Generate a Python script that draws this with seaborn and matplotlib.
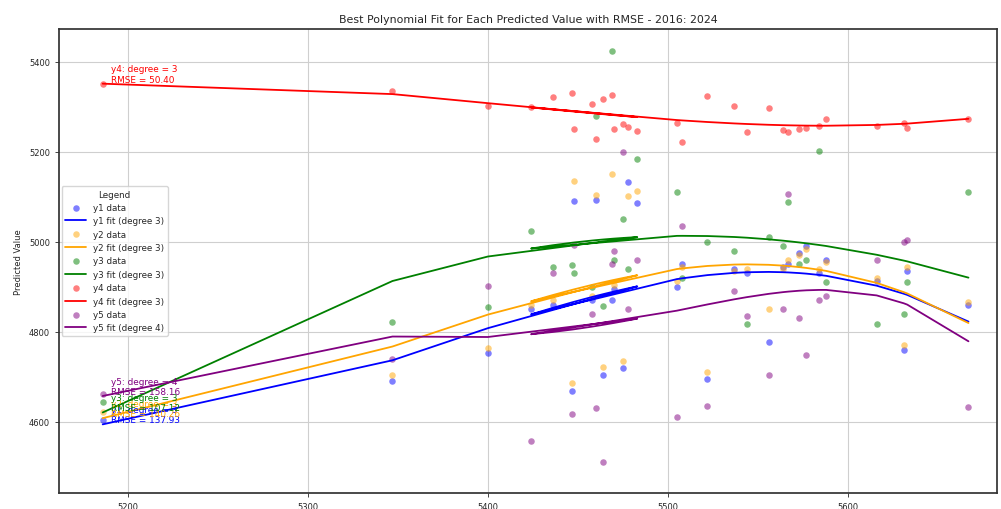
import numpy as np
import pandas as pd
import matplotlib
matplotlib.use("Agg")
import matplotlib.pyplot as plt
import seaborn as sns

# Actual values (in record order) and the five predicted series
actual = [5186, 5347, 5400, 5483, 5478, 5475, 5470, 5469, 5464, 5460,
          5458, 5448, 5447, 5436, 5424, 5505, 5508, 5522, 5537, 5544,
          5556, 5564, 5567, 5573, 5577, 5584, 5588, 5616, 5631, 5633, 5667]

y1 = [4604, 4690, 4753, 5087, 5133, 4720, 4896, 4870, 4704, 5093,
      4870, 5091, 4669, 4860, 4850, 4900, 4950, 4696, 4940, 4930,
      4778, 4945, 4950, 4975, 4990, 4930, 4960, 4913, 4760, 4936, 4860]
y2 = [4622, 4705, 4764, 5113, 5102, 4735, 4905, 5151, 4722, 5105,
      4880, 5136, 4687, 4870, 4860, 4912, 4945, 4710, 4935, 4940,
      4851, 4940, 4960, 4970, 4985, 4940, 4955, 4920, 4770, 4945, 4866]
y3 = [4645, 4822, 4856, 5184, 4940, 5051, 4960, 5424, 4858, 5280,
      4900, 4930, 4949, 4944, 5024, 5111, 4920, 5000, 4980, 4818,
      5010, 4990, 5089, 4950, 4960, 5202, 4910, 4818, 4840, 4910, 5111]
y4 = [5350, 5336, 5302, 5247, 5255, 5262, 5250, 5327, 5318, 5229,
      5307, 5250, 5331, 5322, 5300, 5265, 5222, 5324, 5302, 5245,
      5298, 5248, 5245, 5250, 5252, 5258, 5272, 5257, 5265, 5254, 5273]
y5 = [4662, 4740, 4902, 4960, 4850, 5200, 4980, 4950, 4511, 4631,
      4840, 4994, 4618, 4930, 4558, 4611, 5036, 4636, 4891, 4836,
      4704, 4850, 5107, 4830, 4749, 4870, 4880, 4960, 5000, 5004, 4633]

series_names = ["y1", "y2", "y3", "y4", "y5"]
series_colors = ["blue", "orange", "green", "red", "purple"]
best_degrees = [3, 3, 3, 3, 4]
rmse_text = ["137.93", "140.26", "107.12", "50.40", "158.16"]

x_ticks = [5200, 5300, 5400, 5500, 5600]
y_ticks = [4600, 4800, 5000, 5200, 5400]

sns.set_theme(style="ticks", rc={"axes.grid": True, "grid.color": "#cfcfcf",
                                 "grid.linewidth": 0.8, "axes.edgecolor": "#333333"})
plt.rcParams["font.family"] = ["DejaVu Sans"]

fig = plt.figure(figsize=(10.01, 5.10), dpi=100)
ax = fig.add_axes([0.0589, 0.0314, 0.937, 0.9098])

x = np.array(actual, dtype=float)
for name, col, deg, rm, ys in zip(series_names, series_colors, best_degrees,
                                  rmse_text, [y1, y2, y3, y4, y5]):
    y = np.array(ys, dtype=float)
    coefs = np.polyfit(x, y, deg)
    fit = np.polyval(coefs, x)
    df = pd.DataFrame({"actual": x, "pred": y, "fit": fit})
    sns.scatterplot(data=df, x="actual", y="pred", color=col, alpha=0.5,
                    s=22, linewidth=0, ax=ax, label=f"{name} data")
    sns.lineplot(data=df, x="actual", y="fit", color=col, sort=False,
                 estimator=None, linewidth=1.3, ax=ax,
                 label=f"{name} fit (degree {deg})")
    ax.annotate(f"{name}: degree = {deg}\nRMSE = {rm}", xy=(x[0], fit[0]),
                xytext=(6, 0), textcoords="offset points", va="bottom",
                ha="left", color=col, fontsize=6.4)

ax.set_xlim(5161.7, 5682.8)
ax.set_ylim(4442, 5473)
ax.set_xticks(x_ticks)
ax.set_yticks(y_ticks)
ax.tick_params(labelsize=6, length=3, width=0.6)
ax.set_title("Best Polynomial Fit for Each Predicted Value with RMSE - 2016: 2024",
             fontsize=7.9, pad=5)
ax.set_xlabel("Actual Value", fontsize=6, labelpad=3)
ax.set_ylabel("Predicted Value", fontsize=6, labelpad=4)
ax.legend(title="Legend", loc="center left", fontsize=6.3, title_fontsize=6.3,
          frameon=True, framealpha=0.8, handlelength=2.4, borderaxespad=0.3)

fig.savefig("out.png", dpi=100)
